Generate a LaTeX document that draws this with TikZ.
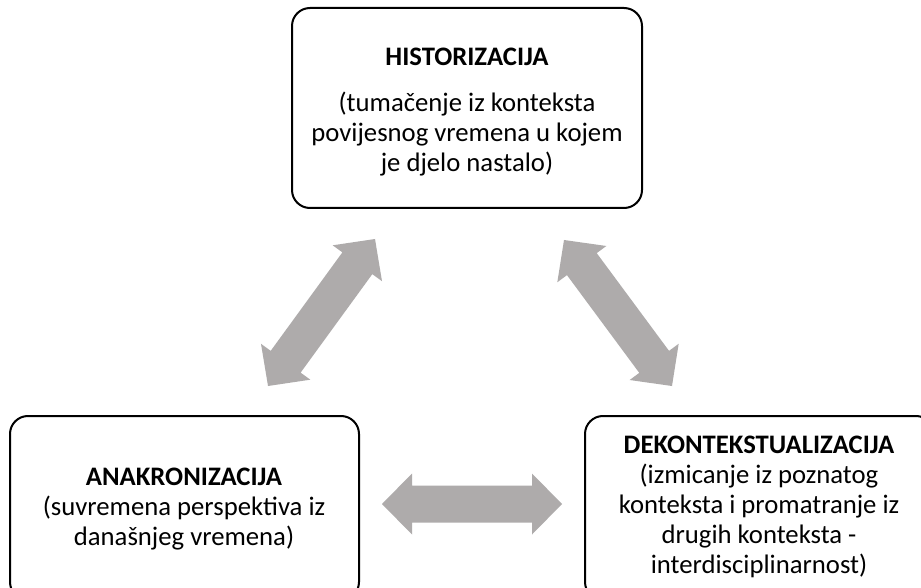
\documentclass[tikz,border=0pt]{standalone}
\usepackage{fontspec}
\setmainfont{Carlito}
\usetikzlibrary{calc}
\definecolor{arrowfill}{RGB}{174,171,171}
\tikzset{
  box/.style={draw=black, line width=2pt, rounded corners=18pt, inner sep=0pt, fill=none},
  boxtext/.style={align=center, inner sep=0pt, anchor=north, font=\fontsize{26.7pt}{30pt}\selectfont},
}
\newcommand\blockarr[2]{%
  \coordinate (#1c) at ($(#1)!30pt!(#2)$);
  \coordinate (#2c) at ($(#2)!30pt!(#1)$);
  \fill[arrowfill] (#1) -- ($(#1c)!30.5pt!90:(#2)$) -- ($(#1c)!18.5pt!90:(#2)$)
    -- ($(#2c)!18.5pt!-90:(#1)$) -- ($(#2c)!30.5pt!-90:(#1)$) -- (#2)
    -- ($(#2c)!30.5pt!90:(#1)$) -- ($(#2c)!18.5pt!90:(#1)$)
    -- ($(#1c)!18.5pt!-90:(#2)$) -- ($(#1c)!30.5pt!-90:(#2)$) -- cycle;
}
\begin{document}
\begin{tikzpicture}[x=1pt,y=-1pt]
\useasboundingbox[fill=white] (0,0) rectangle (921,588);
% boxes
\node[box, minimum width=350pt, minimum height=200pt] (hist) at (467,108) {};
\node[box, minimum width=349pt, minimum height=184pt] (anak) at (184.5,508) {};
\node[box, minimum width=349pt, minimum height=184pt] (dekon) at (759.5,508) {};
% texts
\node[boxtext] (histtxt) at (467,48.1) {\textbf{HISTORIZACIJA}\\[16pt](tumačenje iz konteksta\\povijesnog vremena u kojem\\je djelo nastalo)};
\node[boxtext] (anaktxt) at (184,468.1) {\textbf{ANAKRONIZACIJA}\\(suvremena perspektiva iz\\današnjeg vremena)};
\node[boxtext] (dekontxt) at (759,436.1) {\textbf{DEKONTEKSTUALIZACIJA}\\(izmicanje iz poznatog\\konteksta i promatranje iz\\drugih konteksta -\\interdisciplinarnost)};
% arrow end points
\coordinate (la) at (268,386);
\coordinate (lb) at (375,239);
\coordinate (ra) at (564,240);
\coordinate (rb) at (672,386);
\coordinate (ha) at (382,504);
\coordinate (hb) at (562,504);
\blockarr{la}{lb}
\blockarr{ra}{rb}
\blockarr{ha}{hb}
\end{tikzpicture}
\end{document}
